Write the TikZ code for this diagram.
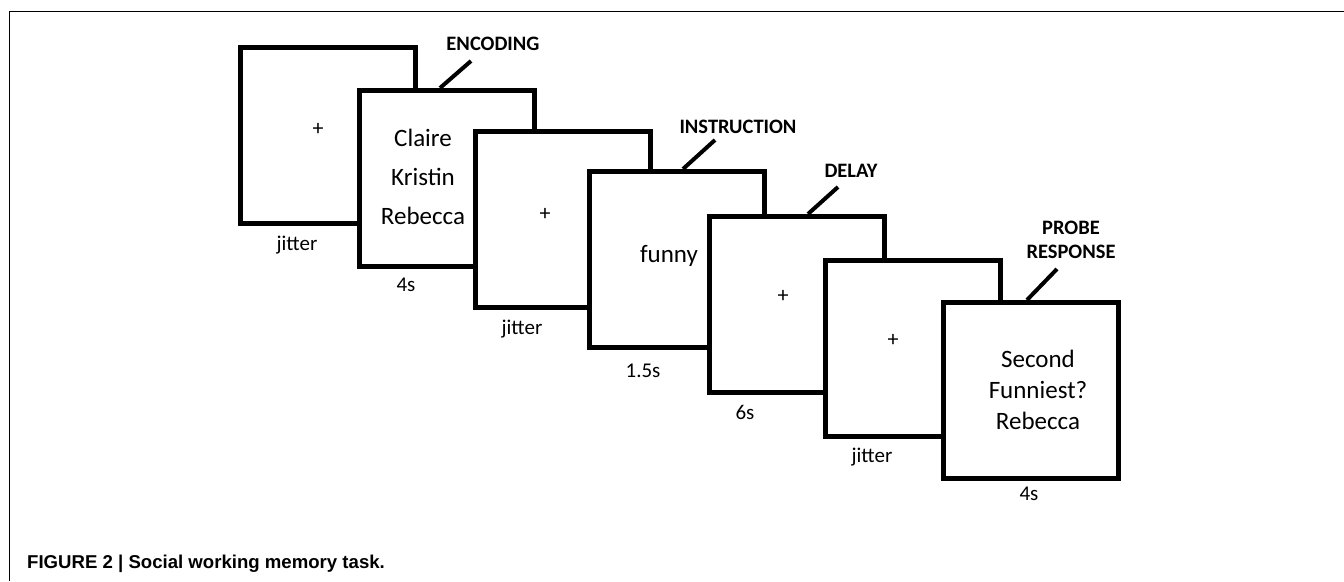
\documentclass[tikz,border=0pt]{standalone}
\usepackage{fontspec}
\setmainfont{Carlito}
\newfontfamily\capfont{Liberation Sans}
\begin{document}
\begin{tikzpicture}[x=1pt,y=-1pt,
  screen/.style={draw=black, fill=white, line width=5pt, line join=miter,
    minimum width=175pt, minimum height=176pt, inner sep=0pt, anchor=north west},
  tick/.style={draw=black, line width=4pt},
  head/.style={font=\fontsize{20.5}{24}\bfseries\selectfont, align=center, inner sep=0pt},
  boxtxt/.style={font=\fontsize{25}{30}\selectfont, inner sep=0pt, anchor=base},
  plus/.style={font=\fontsize{22}{24}\selectfont, inner sep=0pt},
  dur/.style={font=\fontsize{21}{24}\selectfont, inner sep=0pt, anchor=base}]
\useasboundingbox (0,0) rectangle (1344,581);
% frame
\draw[line width=1.3pt] (1344,11.5) -- (9.5,11.5) -- (9.5,581);
% screens
\node[screen] (b1) at (238,45) {};
\node[plus] (p1) at (318,129) {+};
\node[dur] (d1) at (297,250) {jitter};
\node[screen] (b2) at (357,88) {};
\node[boxtxt] (c1) at (423,146) {Claire};
\node[boxtxt] (c2) at (423,185) {Kristin};
\node[boxtxt] (c3) at (423,224) {Rebecca};
\node[dur] (d2) at (406,291) {4s};
\node[screen] (b3) at (473,129) {};
\node[plus] (p3) at (545,214) {+};
\node[dur] (d3) at (522,334) {jitter};
\node[screen] (b4) at (587,169) {};
\node[boxtxt] (f1) at (669,262) {funny};
\node[dur] (d4) at (643,377) {1.5s};
\node[screen] (b5) at (707,214) {};
\node[plus] (p5) at (783,296) {+};
\node[dur] (d5) at (745,419) {6s};
\node[screen] (b6) at (823,258) {};
\node[plus] (p6) at (893,340) {+};
\node[dur] (d6) at (872,462) {jitter};
\node[screen] (b7) at (941,300) {};
\node[boxtxt] (s1) at (1038,367) {Second};
\node[boxtxt] (s2) at (1038,398) {Funniest?};
\node[boxtxt] (s3) at (1038,429) {Rebecca};
\node[dur] (d7) at (1029,500) {4s};
% headers
\node[head] (h1) at (493,44) {ENCODING};
\node[head] (h2) at (738,127) {INSTRUCTION};
\node[head] (h3) at (851,171) {DELAY};
\node[head] (h4) at (1071,240) {PROBE\\RESPONSE};
\coordinate (t1) at (471,61);
\coordinate (t2) at (715,140);
\coordinate (t3) at (838,187);
\coordinate (t4) at (1057,269);
\draw[tick] ([xshift=83pt]b2.north west) -- (t1);
\draw[tick] ([xshift=96pt]b4.north west) -- (t2);
\draw[tick] ([xshift=101pt]b5.north west) -- (t3);
\draw[tick] ([xshift=86pt]b7.north west) -- (t4);
% caption
\node[font=\capfont\bfseries\fontsize{18.6}{20}\selectfont, anchor=base west, inner sep=0pt] (cap) at (27,568) {FIGURE 2 | Social working memory task.};
\end{tikzpicture}
\end{document}
